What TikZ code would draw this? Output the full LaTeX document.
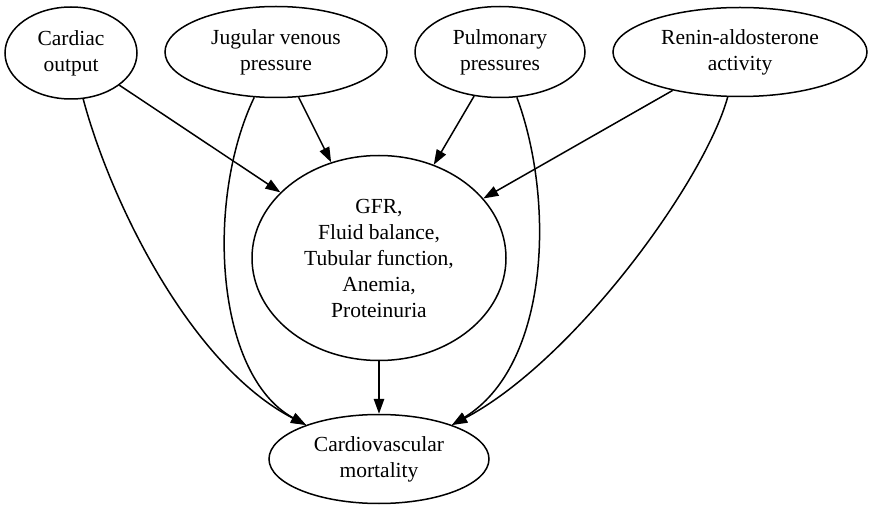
\documentclass[tikz,border=0pt]{standalone}
\usepackage{fontspec}
\setmainfont{Liberation Serif}
\usetikzlibrary{shapes.geometric,arrows.meta}
\begin{document}
\begin{tikzpicture}[x=1pt,y=-1pt,
  ell/.style={ellipse,draw,line width=1.5pt,inner sep=0pt,align=center,
    font=\fontsize{21.5}{26}\selectfont},
  arr/.style={-{Triangle[length=15pt,width=10.5pt]},line width=1.5pt}]
\useasboundingbox (0,0) rectangle (871,505);
\node[ell,minimum width=132pt,minimum height=92pt] (co) at (71,53) {Cardiac\\output};
\node[ell,minimum width=222pt,minimum height=91pt] (jvp) at (276,52) {Jugular venous\\pressure};
\node[ell,minimum width=170pt,minimum height=91pt] (pp) at (500,52) {Pulmonary\\pressures};
\node[ell,minimum width=254pt,minimum height=89pt] (ra) at (740,52) {Renin-aldosterone\\activity};
\node[ell,minimum width=254pt,minimum height=205pt] (gfr) at (379,258) {GFR,\\Fluid balance,\\Tubular function,\\Anemia,\\Proteinuria};
\node[ell,minimum width=220pt,minimum height=89pt] (cvm) at (379,459) {Cardiovascular\\mortality};
\draw[arr] (co) -- (gfr);
\draw[arr] (jvp) -- (gfr);
\draw[arr] (pp) -- (gfr);
\draw[arr] (ra) -- (gfr);
\draw[arr] (gfr) -- (cvm);
\draw[arr] (co) .. controls (110,200) and (190,365) .. (cvm.155);
\draw[arr] (jvp) .. controls (205,200) and (215,375) .. (cvm.155);
\draw[arr] (pp) .. controls (555,200) and (550,365) .. (cvm.25);
\draw[arr] (ra) .. controls (705,180) and (575,360) .. (cvm.25);
\end{tikzpicture}
\end{document}
